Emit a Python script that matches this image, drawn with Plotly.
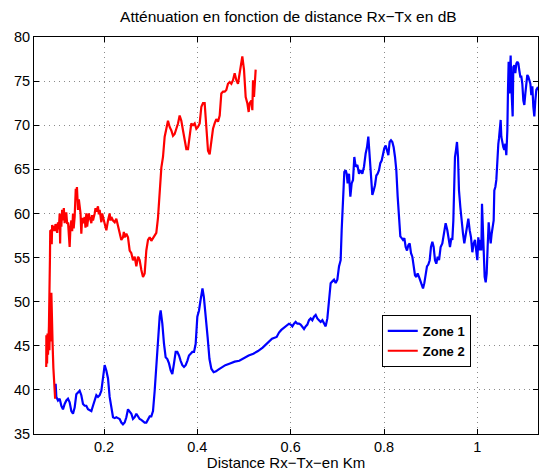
import plotly.graph_objects as go

# ---- data (distance in km, attenuation in dB) ----
zone1_x = [0.0964, 0.0979, 0.1014, 0.105, 0.1086, 0.1121, 0.1157, 0.1193, 0.1229, 0.1264, 0.13, 0.1336,
           0.1371, 0.1407, 0.1443, 0.1479, 0.1514, 0.155, 0.1586, 0.1621, 0.1657, 0.1693, 0.1729, 0.1764,
           0.18, 0.1836, 0.1871, 0.1907, 0.1943, 0.1979, 0.2014, 0.205, 0.2086, 0.2121, 0.2157, 0.2193,
           0.2229, 0.2264, 0.23, 0.2336, 0.2371, 0.2407, 0.2443, 0.2479, 0.2514, 0.255, 0.2586, 0.2621,
           0.2657, 0.2693, 0.2729, 0.2764, 0.28, 0.2836, 0.2871, 0.2907, 0.2943, 0.2979, 0.3014, 0.305,
           0.3086, 0.3121, 0.3157, 0.3193, 0.3214, 0.325, 0.3286, 0.3321, 0.3357, 0.3393, 0.3429, 0.3464,
           0.35, 0.3536, 0.3571, 0.3607, 0.3643, 0.3679, 0.3714, 0.375, 0.3786, 0.3821, 0.3857, 0.3893,
           0.3929, 0.3964, 0.4, 0.4036, 0.407, 0.411, 0.414, 0.418, 0.422, 0.426, 0.430, 0.435, 0.44,
           0.445, 0.45, 0.46, 0.47, 0.48, 0.49, 0.50, 0.51, 0.52, 0.53, 0.54, 0.55, 0.56, 0.57, 0.575,
           0.58, 0.585, 0.59, 0.5964, 0.6, 0.6036, 0.6071, 0.6107, 0.6143, 0.6179, 0.6214, 0.625, 0.6286,
           0.6321, 0.6357, 0.6393, 0.6429, 0.6464, 0.65, 0.6536, 0.6571, 0.6607, 0.6643, 0.6679, 0.6714,
           0.675, 0.6786, 0.6821, 0.6857, 0.6893, 0.6929, 0.6964, 0.7, 0.7036, 0.7071, 0.7093, 0.7121,
           0.715, 0.7179, 0.72, 0.7221, 0.725, 0.7279, 0.7307, 0.7336, 0.7364, 0.7393, 0.7429, 0.7464,
           0.75, 0.7536, 0.7571, 0.7607, 0.7636, 0.7664, 0.7693, 0.7721, 0.775, 0.7779, 0.7807, 0.7836,
           0.7864, 0.7893, 0.7921, 0.795, 0.7979, 0.8007, 0.8036, 0.8064, 0.8093, 0.8121, 0.815, 0.8179,
           0.8207, 0.8236, 0.8264, 0.8293, 0.8321, 0.835, 0.8379, 0.8407, 0.8436, 0.8464, 0.8493, 0.8521,
           0.855, 0.8579, 0.8607, 0.8636, 0.8664, 0.8693, 0.8721, 0.875, 0.8779, 0.8807, 0.8836, 0.8864,
           0.8893, 0.8921, 0.895, 0.8979, 0.9007, 0.9036, 0.9064, 0.9093, 0.9121, 0.915, 0.9179, 0.9214,
           0.925, 0.9286, 0.9321, 0.9357, 0.9393, 0.9414, 0.9443, 0.9464, 0.9486, 0.9507, 0.9521, 0.9543,
           0.9564, 0.9586, 0.9607, 0.9636, 0.9664, 0.9693, 0.9721, 0.975, 0.9779, 0.9807, 0.9836, 0.9864,
           0.9893, 0.9921, 0.995, 0.9979, 1.0, 1.0021, 1.0043, 1.0064, 1.0086, 1.01, 1.0114, 1.0136,
           1.0157, 1.0179, 1.02, 1.0221, 1.0243, 1.0264, 1.0286, 1.0307, 1.0329, 1.035, 1.0364, 1.0386,
           1.0407, 1.0421, 1.0436, 1.045, 1.0464, 1.0486, 1.05, 1.0514, 1.0536, 1.0557, 1.0579, 1.06,
           1.0621, 1.0643, 1.0657, 1.0671, 1.0686, 1.07, 1.0714, 1.0729, 1.0743, 1.0757, 1.0771, 1.0793,
           1.0814, 1.0836, 1.0857, 1.0879, 1.09, 1.0921, 1.0943, 1.0964, 1.0986, 1.1007, 1.1029, 1.105,
           1.1071, 1.1093, 1.1114, 1.1136, 1.1157, 1.1179, 1.12, 1.1221, 1.1243, 1.1264, 1.1286, 1.132]
zone1_y = [40.7, 39.2, 38.8, 39.0, 38.2, 37.8, 38.4, 38.8, 39.0, 38.6, 37.6, 37.3,
           38.0, 39.5, 39.7, 39.9, 39.4, 38.4, 38.2, 38.2, 37.8, 37.7, 37.6, 38.2,
           38.8, 39.4, 39.2, 39.4, 39.9, 41.4, 42.8, 42.2, 41.3, 39.2, 37.8, 36.9,
           36.8, 36.9, 36.8, 36.7, 36.3, 36.1, 36.3, 36.9, 37.8, 37.6, 37.3, 36.7,
           36.9, 37.3, 36.9, 36.7, 36.6, 36.4, 36.3, 36.3, 36.7, 37.0, 37.0, 37.6,
           39.9, 43.0, 46.0, 48.3, 49.0, 47.5, 45.2, 43.7, 43.5, 43.0, 42.2, 41.8,
           43.0, 44.3, 44.3, 43.9, 43.3, 42.8, 42.6, 42.8, 43.3, 43.9, 44.1, 44.3,
           44.3, 45.2, 48.3, 49.0, 50.2, 51.5, 50.5, 48.5, 46.0, 43.5, 42.4, 42.0, 42.1,
           42.3, 42.5, 42.8, 43.0, 43.2, 43.3, 43.6, 43.9, 44.1, 44.4, 44.8, 45.3, 45.8, 46.0, 46.5,
           46.8, 47.0, 47.3, 47.5, 47.4, 47.2, 47.5, 47.7, 47.5, 47.5, 47.4, 47.2, 46.9,
           47.2, 47.4, 47.9, 48.1, 47.9, 48.3, 48.5, 48.1, 47.9, 47.7, 47.9, 47.5,
           47.2, 48.1, 49.8, 52.1, 52.3, 52.5, 52.1, 52.5, 54.0, 54.7, 58.1, 61.5,
           64.7, 64.9, 64.5, 63.4, 64.5, 61.9, 63.4, 63.8, 66.4, 65.3, 65.5, 64.5,
           64.9, 64.5, 65.3, 66.8, 67.5, 68.7, 66.8, 64.2, 62.1, 62.6, 63.2, 64.3,
           64.5, 64.9, 65.7, 66.0, 66.8, 67.4, 67.7, 67.2, 66.6, 68.1, 68.3, 68.1,
           67.5, 66.4, 64.9, 61.9, 59.2, 57.4, 57.2, 57.0, 57.2, 56.2, 55.8, 56.4,
           56.6, 55.5, 55.1, 54.0, 53.0, 52.8, 53.2, 52.8, 52.3, 52.1, 51.5, 52.1,
           53.2, 54.0, 54.2, 54.7, 56.2, 56.8, 56.2, 54.7, 54.3, 55.1, 54.7, 56.2,
           56.6, 58.1, 58.9, 58.1, 57.0, 56.2, 57.2, 57.0, 59.2, 62.6, 66.4, 67.2,
           68.1, 66.4, 62.6, 60.7, 58.9, 57.7, 56.6, 57.5, 58.5, 59.4, 58.1, 57.3,
           55.6, 56.6, 57.0, 55.1, 54.7, 57.3, 55.8, 57.0, 55.8, 61.1, 58.9, 54.7,
           52.8, 52.2, 53.2, 56.2, 59.0, 57.7, 56.6, 57.7, 58.9, 59.2, 62.6, 63.0,
           63.8, 65.7, 66.4, 67.9, 68.5, 70.0, 70.6, 68.7, 67.9, 67.5, 67.2, 67.9,
           66.6, 69.4, 74.0, 77.2, 73.6, 77.4, 77.9, 74.4, 72.1, 71.0, 76.6, 76.8,
           75.9, 77.0, 77.2, 77.0, 76.2, 75.5, 75.5, 74.7, 72.8, 72.3, 73.6, 74.4,
           75.7, 75.5, 75.1, 74.7, 73.4, 74.4, 72.1, 71.0, 72.8, 74.0, 74.2, 74.0]

zone2_x = [0.0953, 0.0935, 0.0915, 0.0900, 0.0890, 0.0885, 0.0880, 0.0872, 0.0865, 0.0858, 0.0850,
           0.0840, 0.0830, 0.0815, 0.0800, 0.0790, 0.0780, 0.0770, 0.0762, 0.0758, 0.0765, 0.0775,
           0.0790, 0.0805, 0.0820, 0.0832, 0.0838, 0.0842, 0.0848,
           0.0871, 0.0880, 0.0889, 0.0907, 0.0925, 0.0943, 0.0961, 0.0979, 0.0997, 0.1014, 0.1032,
           0.1050, 0.1060, 0.1068, 0.1086, 0.1103, 0.1121, 0.1139, 0.1157, 0.1175, 0.1193, 0.1211,
           0.1229, 0.1264, 0.1282, 0.1300, 0.1318, 0.1336, 0.1350, 0.1371, 0.1395, 0.1407, 0.1420,
           0.1430, 0.1443, 0.1461, 0.1479, 0.1497, 0.1514, 0.1532, 0.1550, 0.1586, 0.1603, 0.1621,
           0.1639, 0.1657, 0.1675, 0.1693, 0.1729, 0.1746, 0.1764, 0.1800, 0.1818, 0.1836, 0.1871,
           0.1889, 0.1907, 0.1943, 0.1961, 0.1979, 0.2014, 0.2050, 0.2086, 0.2121, 0.2139, 0.2157,
           0.2193, 0.2229, 0.2264, 0.2300, 0.2336, 0.2371, 0.2407, 0.2425, 0.2443, 0.2479, 0.2514,
           0.2550, 0.2586, 0.2621, 0.2657, 0.2693, 0.2729, 0.2764, 0.2800, 0.2836, 0.2871, 0.2907,
           0.2943, 0.2979, 0.3014, 0.3050, 0.3086, 0.3121, 0.3157, 0.3193, 0.3229, 0.3264, 0.3300,
           0.3336, 0.3371, 0.3407, 0.3443, 0.3479, 0.3514, 0.3550, 0.3586, 0.3621, 0.3657, 0.3693,
           0.3729, 0.3764, 0.3800, 0.3836, 0.3871, 0.3907, 0.3943, 0.3979, 0.4014, 0.4050, 0.4086,
           0.4121, 0.4157, 0.4193, 0.4229, 0.4264, 0.4300, 0.4336, 0.4371, 0.4407, 0.4443, 0.4479,
           0.4514, 0.4550, 0.4586, 0.4621, 0.4657, 0.4693, 0.4729, 0.4764, 0.4800, 0.4836, 0.4871,
           0.4907, 0.4943, 0.4964, 0.5000, 0.5036, 0.5071, 0.5100, 0.5121, 0.5157, 0.5179, 0.5193,
           0.5214, 0.5236, 0.5250]
zone2_y = [39.0, 40.2, 42.5, 44.9, 47.5, 50.9, 48.5, 51.0, 46.5, 49.0, 45.5,
           47.0, 44.5, 46.0, 44.0, 46.4, 43.0, 45.5, 42.6, 44.5, 46.2, 43.8,
           45.6, 44.8, 47.2, 50.0, 52.5, 55.0, 58.0,
           58.1, 56.5, 58.7, 58.0, 58.6, 58.0, 58.8, 58.3, 57.8, 59.0, 58.2,
           60.0, 56.6, 59.0, 58.5, 60.4, 59.2, 60.6, 58.9, 60.0, 60.0, 58.8,
           59.0, 56.2, 58.5, 59.2, 58.0, 60.0, 58.3, 59.6, 62.8, 62.0, 63.0,
           61.5, 60.4, 61.6, 61.0, 60.0, 57.7, 59.5, 58.9, 59.6, 58.4, 60.0,
           58.5, 59.2, 60.0, 59.6, 58.9, 59.8, 59.2, 60.0, 60.6, 60.2, 60.8,
           59.9, 60.4, 59.0, 60.0, 59.6, 58.9, 58.1, 59.2, 60.0, 59.2, 59.6,
           59.2, 59.0, 59.4, 58.5, 57.9, 57.0, 57.3, 57.9, 57.3, 57.7, 57.3,
           55.8, 55.5, 54.7, 55.1, 54.0, 55.1, 54.7, 53.6, 52.8, 53.2, 55.8,
           57.0, 57.3, 56.9, 57.2, 57.4, 57.8, 59.5, 62.6, 65.2, 66.4, 68.7,
           69.6, 70.5, 69.8, 69.4, 68.8, 69.0, 69.6, 70.2, 71.1, 70.5, 69.4,
           68.3, 67.3, 67.3, 69.0, 70.2, 70.0, 70.2, 69.6, 69.8, 70.2, 72.1,
           72.5, 72.5, 69.8, 67.1, 66.7, 68.3, 69.6, 70.2, 70.7, 70.4, 71.1,
           73.6, 73.8, 73.8, 74.0, 74.7, 74.9, 74.7, 75.1, 75.9, 75.1, 74.7,
           75.9, 77.0, 77.8, 76.3, 73.2, 72.5, 71.5, 72.5, 72.8, 71.7, 75.1,
           73.2, 76.3, 76.3]

x_tick_vals = [0.2, 0.4, 0.6, 0.8, 1.0]
x_tick_text = ["0.2", "0.4", "0.6", "0.8", "1"]
y_tick_vals = [35, 40, 45, 50, 55, 60, 65, 70, 75, 80]

FONT = "Liberation Sans, Arial, Helvetica, sans-serif"

fig = go.Figure()
fig.add_trace(go.Scatter(x=zone1_x, y=zone1_y, mode="lines", name="Zone 1",
                         line=dict(color="#0000ff", width=2.2)))
fig.add_trace(go.Scatter(x=zone2_x, y=zone2_y, mode="lines", name="Zone 2",
                         line=dict(color="#ff0000", width=2.2)))

axis_common = dict(
    showline=True, linecolor="black", linewidth=1, mirror="ticks",
    ticks="inside", ticklen=5, tickcolor="black", tickwidth=1,
    showgrid=True, gridcolor="#8a8a8a", griddash="1px,4px", gridwidth=1,
    zeroline=False, automargin=False,
    tickfont=dict(family=FONT, size=14.5, color="black"),
)

fig.update_layout(
    width=539, height=471,
    margin=dict(l=34, r=1, t=37, b=37),
    paper_bgcolor="white", plot_bgcolor="white",
    title=dict(text="Atténuation en fonction de distance Rx−Tx en dB",
               x=0.535, xanchor="center", y=0.964, yanchor="middle",
               font=dict(family=FONT, size=15.5, color="black")),
    xaxis=dict(range=[0.05, 1.13], tickvals=x_tick_vals, ticktext=x_tick_text,
               title=dict(text="Distance Rx−Tx−en Km", standoff=5,
                          font=dict(family=FONT, size=15, color="black")),
               **axis_common),
    yaxis=dict(range=[35, 80], tickvals=y_tick_vals, **axis_common),
    legend=dict(x=0.69, y=0.30, xanchor="left", yanchor="top",
                bgcolor="white", bordercolor="black", borderwidth=1,
                font=dict(family=FONT, size=13, color="black", weight="bold"),
                itemwidth=30, tracegroupgap=0),
    showlegend=True,
)

fig.write_html("out.html", config={"displayModeBar": False},
               post_script="document.body.style.margin='0';document.body.style.overflow='hidden';")
